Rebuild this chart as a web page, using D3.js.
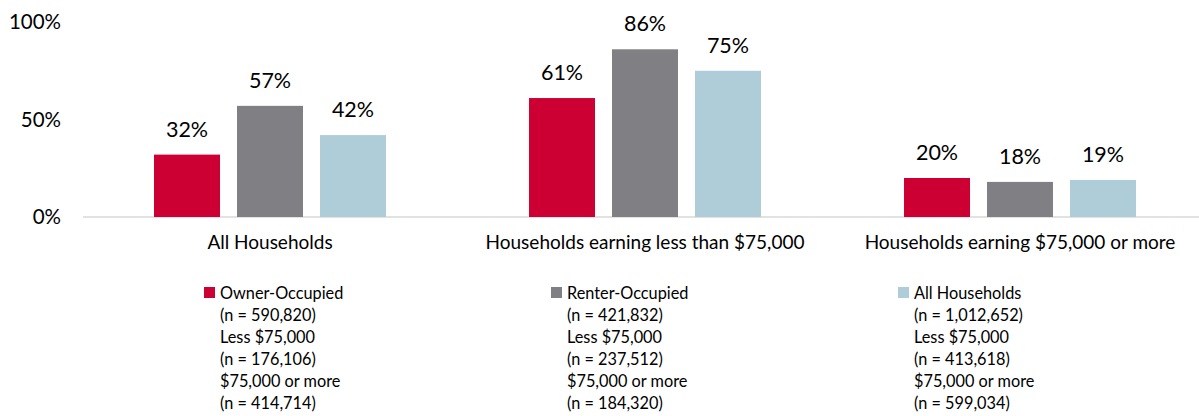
<!DOCTYPE html>
<html>
<head>
<meta charset="utf-8">
<script src="https://cdn.jsdelivr.net/npm/d3@7"></script>
<style>
  body { margin: 0; background: #fff; }
  text { font-family: Lato, "Open Sans", sans-serif; fill: #000; }
</style>
</head>
<body>
<script>
// chart data
const categories = ["All Households", "Households earning less than $75,000", "Households earning $75,000 or more"]
const seriesNames = ["Owner-Occupied", "Renter-Occupied", "All Households"]
const ownerValues = [32, 61, 20]
const renterValues = [57, 86, 18]
const allValues = [42, 75, 19]
const yTicks = [0, 50, 100]
const legendLines = [
  ["(n = 590,820)", "Less $75,000", "(n = 176,106)", "$75,000 or more", "(n = 414,714)"],
  ["(n = 421,832)", "Less $75,000", "(n = 237,512)", "$75,000 or more", "(n = 184,320)"],
  ["(n = 1,012,652)", "Less $75,000", "(n = 413,618)", "$75,000 or more", "(n = 599,034)"]
]
const colors = ["#cc0033", "#808084", "#aecdd9"]

const width = 1199
const height = 416
const seriesValues = [ownerValues, renterValues, allValues]

var svg = d3.select("body").append("svg")
    .attr("width", width)
    .attr("height", height)

var x0 = d3.scaleBand()
    .domain(categories)
    .range([82.5, 1207.5])
var bw = x0.bandwidth()
var x1 = d3.scaleBand()
    .domain(seriesNames)
    .range([bw * 0.1907, bw * 0.8093])
    .paddingInner(0.205)
var y = d3.scaleLinear()
    .domain([0, 100])
    .range([217, 22])

// baseline
svg.append("line")
    .attr("x1", 83).attr("x2", width)
    .attr("y1", y(0)).attr("y2", y(0))
    .attr("stroke", "#d9d9d9")
    .attr("stroke-width", 1.5)

// y axis labels
var yAxis = d3.axisLeft(y)
    .tickValues(yTicks)
    .tickFormat(d => d + "%")
    .tickSize(0)
    .tickPadding(0)
var ya = svg.append("g")
    .attr("transform", "translate(61,0)")
    .call(yAxis)
ya.select(".domain").remove()
ya.selectAll("text")
    .style("font-size", "20.5px")
    .attr("font-family", null)

var rows = []
categories.forEach((c, i) => {
    seriesNames.forEach((s, j) => {
        rows.push({cat: c, ser: s, v: seriesValues[j][i], color: colors[j]})
    })
})

var bars = svg.selectAll("g.bar")
    .data(rows)
    .enter()
    .append("g")
    .attr("class", "bar")

bars.append("rect")
    .style("fill", d => d.color)
    .attr("x", d => x0(d.cat) + x1(d.ser))
    .attr("width", x1.bandwidth())
    .attr("y", d => y(d.v))
    .attr("height", d => y(0) - y(d.v))

bars.append("text")
    .attr("x", d => x0(d.cat) + x1(d.ser) + x1.bandwidth() / 2)
    .attr("y", d => y(d.v) - 18)
    .attr("text-anchor", "middle")
    .style("font-size", "21.5px")
    .text(d => d.v + "%")

// category labels
var xAxis = d3.axisBottom(x0).tickSize(0).tickPadding(0)
var xa = svg.append("g")
    .attr("transform", "translate(0,235)")
    .call(xAxis)
xa.select(".domain").remove()
xa.selectAll("text")
    .style("font-size", "19px")
    .attr("font-family", null)

// legend
var legendX = [204, 551, 898]
var legend = svg.selectAll("g.legend")
    .data(seriesNames)
    .enter()
    .append("g")
    .attr("class", "legend")
    .attr("transform", (d, i) => "translate(" + legendX[i] + ",0)")

legend.append("rect")
    .attr("x", 0).attr("y", 287)
    .attr("width", 11).attr("height", 11)
    .style("fill", (d, i) => colors[i])

legend.each(function(d, i) {
    var lines = [d].concat(legendLines[i])
    d3.select(this).selectAll("text")
        .data(lines)
        .enter()
        .append("text")
        .attr("x", 16)
        .attr("y", (t, k) => 298.5 + k * 22)
        .style("font-size", "16.3px")
        .text(t => t)
})
</script>
</body>
</html>
